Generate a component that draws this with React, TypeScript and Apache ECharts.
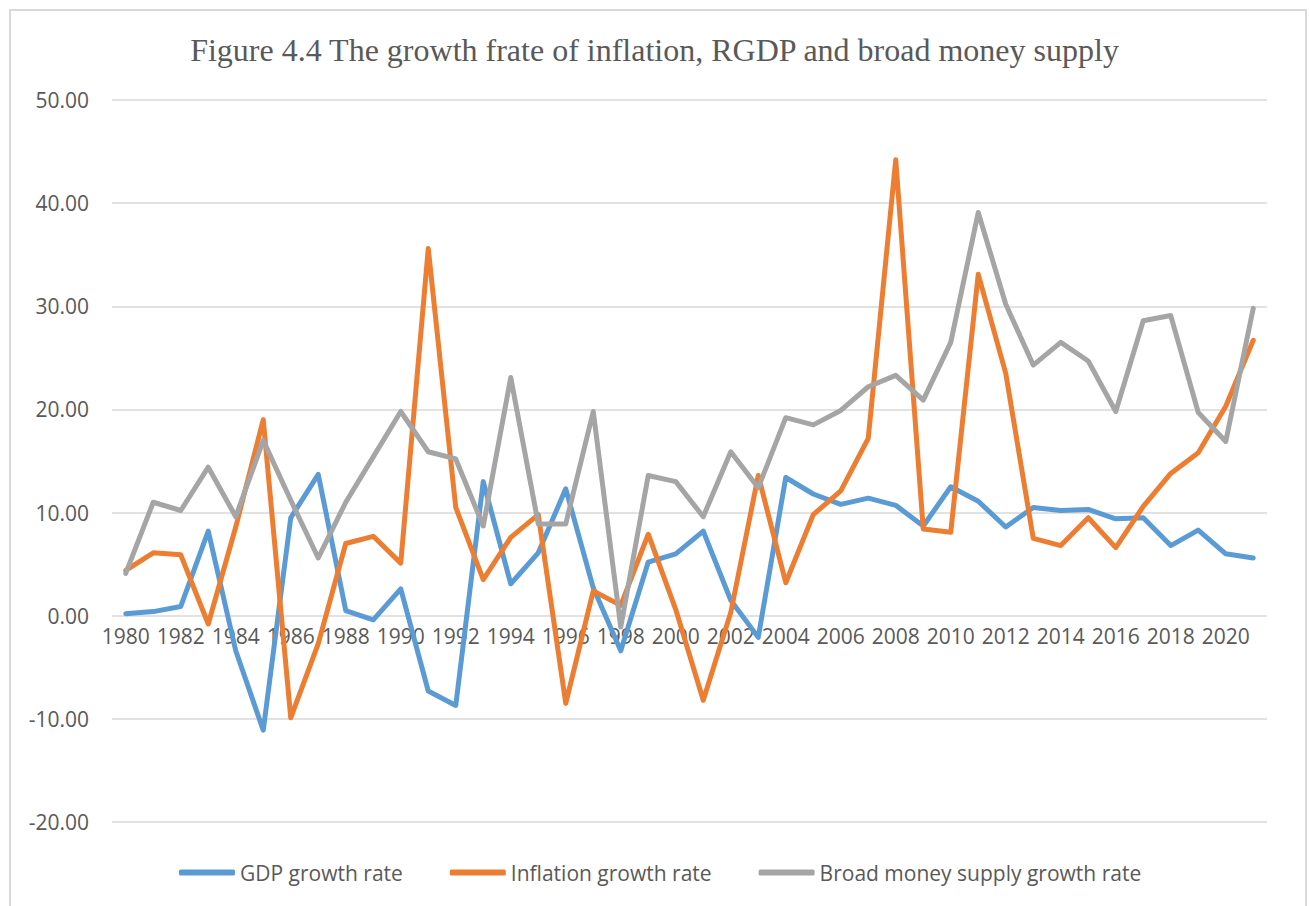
import React, { useEffect, useRef } from "react";
import * as echarts from "echarts";

const years: string[] = [];
for (let y = 1980; y <= 2021; y++) years.push(String(y));

const gdpGrowth = [
  0.2, 0.4, 0.9, 8.2, -3.4, -11.1, 9.5, 13.7, 0.5, -0.4,
  2.6, -7.3, -8.7, 13.0, 3.1, 6.1, 12.3, 2.7, -3.4, 5.2,
  6.0, 8.2, 1.5, -2.1, 13.4, 11.8, 10.8, 11.4, 10.7, 8.7,
  12.5, 11.1, 8.6, 10.5, 10.2, 10.3, 9.4, 9.5, 6.8, 8.3,
  6.0, 5.6,
];

const inflationGrowth = [
  4.4, 6.1, 5.9, -0.8, 8.6, 19.0, -9.9, -2.7, 7.0, 7.7,
  5.1, 35.6, 10.5, 3.5, 7.6, 9.8, -8.5, 2.4, 1.0, 7.9,
  0.6, -8.2, 0.3, 13.6, 3.2, 9.8, 12.1, 17.2, 44.2, 8.4,
  8.1, 33.1, 23.5, 7.5, 6.8, 9.5, 6.6, 10.6, 13.8, 15.8,
  20.3, 26.7,
];

const broadMoneyGrowth = [
  4.1, 11.0, 10.2, 14.4, 9.6, 17.0, 11.2, 5.6, 11.0, 15.4,
  19.8, 15.9, 15.2, 8.7, 23.1, 8.9, 8.9, 19.8, -1.1, 13.6,
  13.0, 9.6, 15.9, 12.4, 19.2, 18.5, 19.9, 22.2, 23.3, 20.9,
  26.5, 39.1, 30.2, 24.3, 26.5, 24.7, 19.8, 28.6, 29.1, 19.7,
  16.9, 29.8,
];

const seriesNames = [
  "GDP growth rate",
  "Inflation growth rate",
  "Broad money supply growth rate",
];
const seriesColors = ["#5B9BD5", "#ED7D31", "#A5A5A5"];

const titleText = "Figure 4.4 The growth frate of inflation, RGDP and broad money supply";

const yMin = -20;
const yMax = 50;

export default function App() {
  const ref = useRef<HTMLDivElement>(null);

  useEffect(() => {
    if (!ref.current) return;
    const chart = echarts.init(ref.current, undefined, { renderer: "svg" });
    const data = [gdpGrowth, inflationGrowth, broadMoneyGrowth];
    const labelFont = "'Open Sans', 'DejaVu Sans', sans-serif";
    const gridTop = 100;
    const gridBottom = 84;
    const plotH = 906 - gridTop - gridBottom;
    // shift the category axis up so it sits on the zero line
    const zeroOffset = -(plotH * (0 - yMin)) / (yMax - yMin);
    chart.setOption({
      animation: false,
      backgroundColor: "#ffffff",
      graphic: [
        {
          type: "rect",
          shape: { x: 10, y: 10, width: 1296, height: 920 },
          style: { fill: "none", stroke: "#d9d9d9", lineWidth: 2 },
          silent: true,
          z: -10,
        },
      ],
      title: {
        text: titleText,
        left: "center",
        top: 29,
        textStyle: {
          fontFamily: "'Liberation Serif', 'Times New Roman', serif",
          fontSize: 32,
          fontWeight: "normal",
          color: "#595959",
        },
      },
      grid: { left: 112, right: 42, top: gridTop, bottom: gridBottom, containLabel: false },
      xAxis: {
        type: "category",
        data: years,
        boundaryGap: true,
        offset: zeroOffset,
        axisLine: { show: false, onZero: false },
        axisTick: { show: false },
        axisLabel: {
          interval: 1,
          color: "#595959",
          fontFamily: labelFont,
          fontSize: 21,
          margin: 10,
        },
        splitLine: { show: false },
      },
      yAxis: {
        type: "value",
        min: yMin,
        max: yMax,
        interval: 10,
        axisLine: { show: false },
        axisTick: { show: false },
        axisLabel: {
          color: "#595959",
          fontFamily: labelFont,
          fontSize: 21,
          margin: 23,
          formatter: (v: number) => v.toFixed(2),
        },
        splitLine: { show: true, lineStyle: { color: "#d9d9d9", width: 1.5 } },
      },
      legend: {
        left: 179,
        top: 862,
        padding: 0,
        itemWidth: 56,
        itemHeight: 6,
        itemGap: 47,
        icon: "roundRect",
        textStyle: {
          color: "#595959",
          fontFamily: labelFont,
          fontSize: 21,
        },
        data: seriesNames,
      },
      series: seriesNames.map((name, i) => ({
        name,
        type: "line",
        data: data[i],
        showSymbol: false,
        symbol: "none",
        color: seriesColors[i],
        lineStyle: { width: 5, color: seriesColors[i], cap: "round", join: "round" },
        z: 2 + i,
      })),
    });
    return () => chart.dispose();
  }, []);

  return (
    <div
      ref={ref}
      style={{ position: "absolute", left: 0, top: 0, width: 1309, height: 906 }}
    />
  );
}
